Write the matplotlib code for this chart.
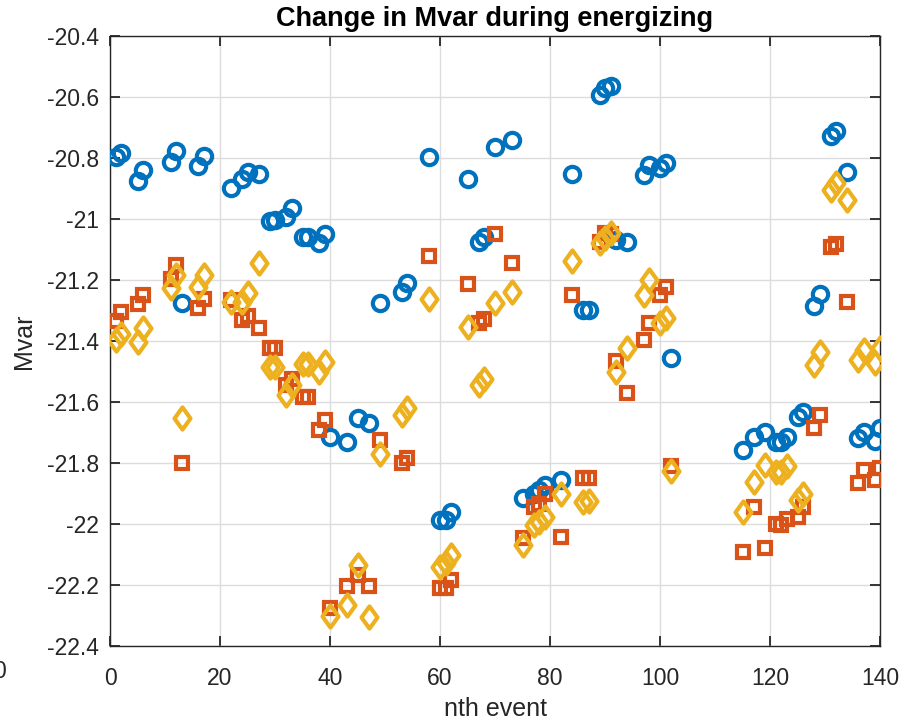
import matplotlib
matplotlib.use("Agg")
import matplotlib.pyplot as plt
from matplotlib.path import Path
from matplotlib.ticker import FixedLocator, FuncFormatter

plt.rcParams['font.family'] = ['Liberation Sans', 'DejaVu Sans']

# event indices
events = [1, 2, 5, 6, 11, 12, 13, 16, 17, 22, 24, 25, 27, 29, 30, 32, 33, 35, 36, 38,
          39, 40, 43, 45, 47, 49, 53, 54, 58, 60, 61, 62, 65, 67, 68, 70, 73, 75, 77, 78,
          79, 82, 84, 86, 87, 89, 90, 91, 92, 94, 97, 98, 100, 101, 102, 115, 117, 119, 121, 122,
          123, 125, 126, 128, 129, 131, 132, 134, 136, 137, 139, 140]

# change in Mvar, first series (circles)
mvar_a = [-20.796, -20.785, -20.874, -20.839, -20.812, -20.776, -21.274, -20.826, -20.793, -20.899,
          -20.869, -20.845, -20.853, -21.007, -21.003, -20.992, -20.963, -21.058, -21.058, -21.080,
          -21.050, -21.714, -21.732, -21.654, -21.670, -21.276, -21.238, -21.211, -20.798, -21.987,
          -21.987, -21.960, -20.870, -21.074, -21.058, -20.765, -20.741, -21.916, -21.900, -21.890,
          -21.872, -21.856, -20.852, -21.298, -21.298, -20.593, -20.572, -20.564, -21.069, -21.074,
          -20.856, -20.823, -20.834, -20.817, -21.457, -21.757, -21.714, -21.697, -21.730, -21.730,
          -21.714, -21.648, -21.632, -21.285, -21.245, -20.728, -20.710, -20.845, -21.719, -21.697,
          -21.727, -21.686]

# second series (squares)
mvar_b = [-21.333, -21.305, -21.280, -21.249, -21.196, -21.152, -21.801, -21.293, -21.261, -21.266,
          -21.330, -21.318, -21.357, -21.423, -21.423, -21.545, -21.525, -21.583, -21.583, -21.692,
          -21.659, -22.276, -22.203, -22.167, -22.203, -21.726, -21.801, -21.785, -21.121, -22.211,
          -22.211, -22.184, -21.214, -21.340, -21.329, -21.049, -21.143, -22.045, -21.943, -21.935,
          -21.900, -22.044, -21.249, -21.848, -21.848, -21.075, -21.045, -21.050, -21.465, -21.572,
          -21.397, -21.342, -21.249, -21.222, -21.810, -22.091, -21.943, -22.078, -22.000, -22.003,
          -21.985, -21.976, -21.943, -21.686, -21.643, -21.091, -21.082, -21.271, -21.867, -21.823,
          -21.856, -21.817]

# third series (diamonds)
mvar_c = [-21.397, -21.378, -21.403, -21.357, -21.227, -21.182, -21.654, -21.222, -21.185, -21.271,
          -21.271, -21.244, -21.145, -21.486, -21.486, -21.577, -21.544, -21.476, -21.476, -21.500,
          -21.468, -22.302, -22.266, -22.134, -22.304, -21.769, -21.643, -21.621, -21.262, -22.140,
          -22.127, -22.100, -21.355, -21.544, -21.526, -21.276, -21.240, -22.069, -22.003, -21.992,
          -21.978, -21.900, -21.137, -21.927, -21.924, -21.080, -21.062, -21.045, -21.500, -21.422,
          -21.249, -21.200, -21.342, -21.326, -21.825, -21.960, -21.861, -21.807, -21.829, -21.829,
          -21.810, -21.921, -21.900, -21.479, -21.435, -20.905, -20.883, -20.938, -21.462, -21.430,
          -21.473, -21.424]

x_ticks = [0, 20, 40, 60, 80, 100, 120, 140]
y_ticks = [-22.4, -22.2, -22.0, -21.8, -21.6, -21.4, -21.2, -21.0, -20.8, -20.6, -20.4]

blue = '#0072BD'
orange = '#D95319'
yellow = '#EDB120'
axis_gray = '#262626'

fig = plt.figure(figsize=(9.13, 7.23), dpi=100)
ax = fig.add_axes([110 / 913, 1 - 646 / 723, 770 / 913, 610 / 723])

# MATLAB-style diamond, taller than wide
diamond = Path([(0, 1), (0.72, 0), (0, -1), (-0.72, 0), (0, 1)],
               [Path.MOVETO, Path.LINETO, Path.LINETO, Path.LINETO, Path.CLOSEPOLY])

ax.plot(events, mvar_a, linestyle='none', marker='o', markersize=11,
        markerfacecolor='none', markeredgecolor=blue, markeredgewidth=3.0, zorder=3)
ax.plot(events, mvar_b, linestyle='none', marker='s', markersize=8.4,
        markerfacecolor='none', markeredgecolor=orange, markeredgewidth=3.0, zorder=3)
ax.plot(events, mvar_c, linestyle='none', marker=diamond, markersize=16,
        markerfacecolor='none', markeredgecolor=yellow, markeredgewidth=3.0, zorder=3)

ax.set_xlim(0, 140)
ax.set_ylim(-22.4, -20.4)
ax.xaxis.set_major_locator(FixedLocator(x_ticks))
ax.yaxis.set_major_locator(FixedLocator(y_ticks))
ax.yaxis.set_major_formatter(FuncFormatter(lambda v, p: f"{v:g}"))
ax.xaxis.set_major_formatter(FuncFormatter(lambda v, p: f"{v:g}"))

ax.grid(True, color='#dcdcdc', linewidth=1.0)
ax.set_axisbelow(True)
for s in ax.spines.values():
    s.set_color(axis_gray)
    s.set_linewidth(1.0)
ax.tick_params(direction='in', length=7, width=1.3, color=axis_gray,
               labelsize=16.5, labelcolor=axis_gray, top=True, right=True)
ax.tick_params(axis='x', pad=15)
ax.tick_params(axis='y', pad=8)

ax.set_xlabel('nth event', fontsize=18, color=axis_gray, labelpad=5)
ax.set_ylabel('Mvar', fontsize=18, color=axis_gray, labelpad=8)
ax.set_title('Change in Mvar during energizing', fontsize=19.5, fontweight='bold',
             color='black', pad=7)

# stray tick label at the left edge
fig.text(-0.008, 1 - 672 / 723, '0', fontsize=16.5, color=axis_gray, va='center', ha='left')

fig.savefig('out.png', dpi=100)
